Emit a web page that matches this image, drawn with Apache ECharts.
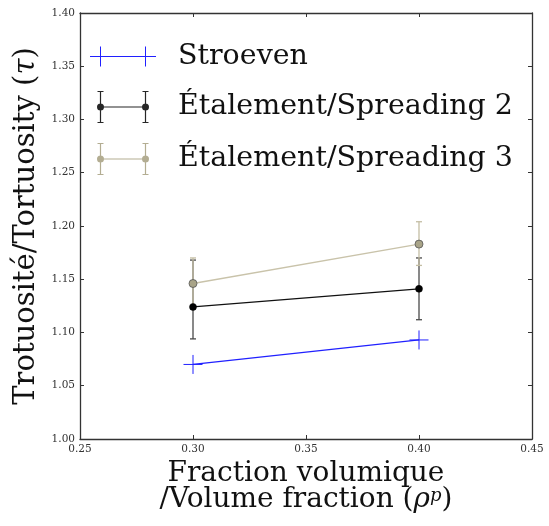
<!DOCTYPE html>
<html>
<head>
<meta charset="utf-8">
<script src="https://cdn.jsdelivr.net/npm/echarts@6/dist/echarts.min.js"></script>
<style>
  html, body { margin: 0; padding: 0; background: #fff; }
  #chart { width: 549px; height: 526px; }
</style>
</head>
<body>
<div id="chart"></div>
<script>
// ---- data ----
const xValues = [0.30, 0.40];
const stroevenValues = [1.070, 1.093];
const spreading2Values = [1.124, 1.141];
const spreading2ErrLow = [0.030, 0.029];
const spreading2ErrHigh = [0.044, 0.029];
const spreading3Values = [1.146, 1.183];
const spreading3ErrLow = [0.024, 0.020];
const spreading3ErrHigh = [0.024, 0.021];
const seriesNames = ['Stroeven', 'Étalement/Spreading 2', 'Étalement/Spreading 3'];
const xTicks = [0.25, 0.30, 0.35, 0.40, 0.45];
const yTicks = [1.00, 1.05, 1.10, 1.15, 1.20, 1.25, 1.30, 1.35, 1.40];

const FONT = 'DejaVu Serif';
const pts = (vals) => xValues.map((x, i) => [x, vals[i]]);
const errPts = (vals, lo, hi) => xValues.map((x, i) => [x, vals[i] - lo[i], vals[i] + hi[i]]);

function errorBar(color, width) {
  return function (params, api) {
    const x = api.value(0);
    const p1 = api.coord([x, api.value(1)]);
    const p2 = api.coord([x, api.value(2)]);
    const cw = 3;
    const st = { stroke: color, lineWidth: width };
    return {
      type: 'group',
      children: [
        { type: 'line', shape: { x1: p1[0], y1: p1[1], x2: p2[0], y2: p2[1] }, style: st },
        { type: 'line', shape: { x1: p1[0] - cw, y1: p1[1], x2: p1[0] + cw, y2: p1[1] }, style: st },
        { type: 'line', shape: { x1: p2[0] - cw, y1: p2[1], x2: p2[0] + cw, y2: p2[1] }, style: st }
      ]
    };
  };
}

const iconPlus = 'path://M0,9.5H66V10.5H0ZM10,0H11V20H10ZM55,0H56V20H55Z';
const iconErr = 'path://M10.5,15.4H55.5V16.6H10.5Z' +
  'M9.9,0H11.1V32H9.9ZM54.9,0H56.1V32H54.9Z' +
  'M7.5,0H13.5V1H7.5ZM7.5,31H13.5V32H7.5Z' +
  'M52.5,0H58.5V1H52.5ZM52.5,31H58.5V32H52.5Z' +
  'M14,16A3.5,3.5,0,1,1,7,16A3.5,3.5,0,1,1,14,16Z' +
  'M59,16A3.5,3.5,0,1,1,52,16A3.5,3.5,0,1,1,59,16Z';

const tickFmt = (v) => v.toFixed(2);
const axisCommon = {
  type: 'value',
  axisLine: { show: true, onZero: false, lineStyle: { color: '#333', width: 1.3 } },
  axisTick: { show: true, inside: true, length: 4, lineStyle: { color: '#333', width: 1 } },
  splitLine: { show: false }
};
const noBorder = { borderWidth: 0, borderColor: 'rgba(0,0,0,0)' };

const chart = echarts.init(document.getElementById('chart'), null, { renderer: 'canvas' });
chart.setOption({
  animation: false,
  backgroundColor: '#fff',
  grid: { left: 80, right: 17, top: 13, bottom: 87, containLabel: false },
  legend: {
    left: 90, top: 42, orient: 'vertical', padding: 0,
    itemWidth: 66, itemHeight: 32, itemGap: 20,
    itemStyle: noBorder,
    textStyle: { fontFamily: FONT, fontSize: 28.5, color: '#111', padding: [0, 0, 0, 17] },
    data: [
      { name: seriesNames[0], icon: iconPlus, itemStyle: Object.assign({ color: '#2020ff' }, noBorder) },
      { name: seriesNames[1], icon: iconErr, itemStyle: Object.assign({ color: '#262626' }, noBorder) },
      { name: seriesNames[2], icon: iconErr, itemStyle: Object.assign({ color: '#b3ad92' }, noBorder) }
    ]
  },
  xAxis: [
    Object.assign({}, axisCommon, {
      min: 0.25, max: 0.45, interval: 0.05, position: 'bottom',
      axisLabel: { formatter: tickFmt, fontFamily: FONT, fontSize: 10.5, color: '#333', margin: 5 },
      name: '{a|Fraction volumique}\n{a|/Volume fraction (}{i|ρ}{s|p}{a|)}',
      nameLocation: 'middle', nameGap: 17,
      nameTextStyle: {
        color: '#111', fontFamily: FONT, fontSize: 28, lineHeight: 26,
        rich: {
          a: { fontFamily: FONT, fontSize: 28, lineHeight: 26, color: '#111' },
          i: { fontFamily: FONT, fontSize: 28, fontStyle: 'italic', lineHeight: 26, color: '#111' },
          s: { fontFamily: FONT, fontSize: 18, fontStyle: 'italic', lineHeight: 14, verticalAlign: 'top', color: '#111' }
        }
      }
    }),
    Object.assign({}, axisCommon, {
      min: 0.25, max: 0.45, interval: 0.05, position: 'top',
      axisLabel: { show: false }
    })
  ],
  yAxis: [
    Object.assign({}, axisCommon, {
      min: 1.0, max: 1.4, interval: 0.05, position: 'left',
      axisLabel: { formatter: tickFmt, fontFamily: FONT, fontSize: 10.5, color: '#333', margin: 5 },
      name: '{a|Trotuosité/Tortuosity (}{i|τ}{a|)}',
      nameLocation: 'middle', nameGap: 29,
      nameTextStyle: {
        color: '#111', fontFamily: FONT, fontSize: 29,
        rich: {
          a: { fontFamily: FONT, fontSize: 29, color: '#111' },
          i: { fontFamily: FONT, fontSize: 29, fontStyle: 'italic', color: '#111' }
        }
      }
    }),
    Object.assign({}, axisCommon, {
      min: 1.0, max: 1.4, interval: 0.05, position: 'right',
      axisLabel: { show: false }
    })
  ],
  series: [
    {
      name: seriesNames[0], type: 'line', data: pts(stroevenValues), z: 2,
      symbol: 'path://M0,10L20,10M10,0L10,20', symbolSize: 19,
      itemStyle: { color: 'rgba(0,0,0,0)', borderColor: '#2020ff', borderWidth: 1 },
      lineStyle: { color: '#2020ff', width: 1.3 }
    },
    {
      name: 'err2', type: 'custom', z: 3, data: errPts(spreading2Values, spreading2ErrLow, spreading2ErrHigh),
      renderItem: errorBar('#4a4a4a', 1.3), silent: true
    },
    {
      name: 'err3', type: 'custom', z: 4, data: errPts(spreading3Values, spreading3ErrLow, spreading3ErrHigh),
      renderItem: errorBar('#c4bea4', 1.3), silent: true
    },
    {
      name: seriesNames[1], type: 'line', data: pts(spreading2Values), z: 5,
      symbol: 'circle', symbolSize: 7,
      itemStyle: { color: '#000', borderColor: '#000', borderWidth: 0.5 },
      lineStyle: { color: '#111', width: 1.3 }
    },
    {
      name: seriesNames[2], type: 'line', data: pts(spreading3Values), z: 6,
      symbol: 'circle', symbolSize: 8,
      itemStyle: { color: '#a9a488', borderColor: '#555', borderWidth: 0.8 },
      lineStyle: { color: '#c9c3aa', width: 1.4 }
    }
  ]
});
</script>
</body>
</html>
